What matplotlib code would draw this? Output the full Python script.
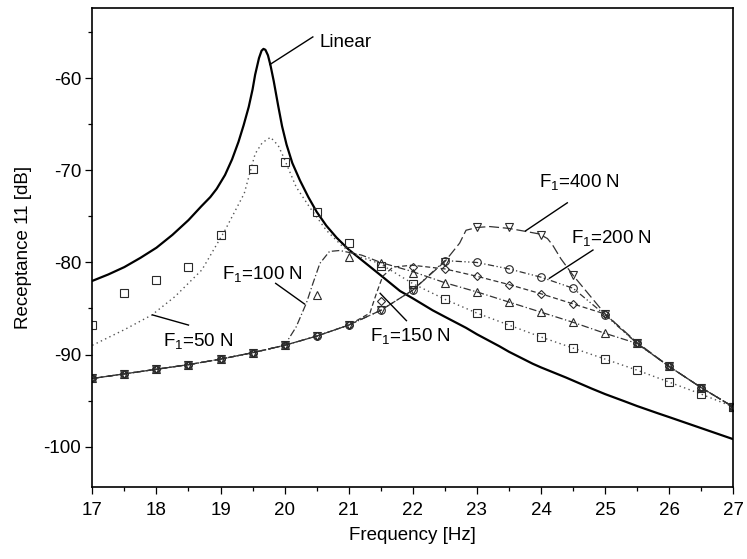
import matplotlib
matplotlib.use("Agg")
import matplotlib.pyplot as plt
from matplotlib.ticker import MultipleLocator

plt.rcParams['font.family'] = ['Liberation Sans', 'DejaVu Sans']
plt.rcParams['mathtext.fontset'] = 'custom'
plt.rcParams['mathtext.rm'] = 'Liberation Sans'
plt.rcParams['mathtext.it'] = 'Liberation Sans:italic'
plt.rcParams['axes.unicode_minus'] = False

# ---- data ----
lin_f = [17.0, 17.25, 17.5, 17.75, 18.0, 18.25, 18.5, 18.7, 18.84, 18.94, 19.07, 19.18,
         19.28, 19.36, 19.44, 19.5, 19.54, 19.6, 19.64, 19.67, 19.7, 19.74, 19.78, 19.83,
         19.9, 19.96, 20.03, 20.12, 20.24, 20.37, 20.5, 20.65, 20.81, 21.0, 21.25, 21.5,
         21.8, 22.0, 22.31, 22.5, 22.83, 23.0, 23.35, 23.5, 23.87, 24.0, 24.39, 24.79,
         25.0, 25.31, 25.5, 25.83, 26.0, 26.5, 27.0]
lin_db = [-82.0, -81.3, -80.5, -79.5, -78.4, -77.0, -75.4, -73.9, -72.9, -72.0, -70.5, -68.8,
          -66.9, -65.1, -63.1, -61.2, -59.6, -57.8, -57.0, -56.8, -56.9, -57.5, -58.6, -60.3,
          -63.0, -65.2, -67.2, -69.2, -71.1, -72.9, -74.5, -76.0, -77.3, -78.6, -80.0, -81.4,
          -83.1, -83.9, -85.2, -85.9, -87.1, -87.8, -89.1, -89.7, -91.0, -91.4, -92.5, -93.7,
          -94.3, -95.1, -95.6, -96.4, -96.8, -98.0, -99.2]

# marker frequencies (every 0.5 Hz)
pts_f = [17.0, 17.5, 18.0, 18.5, 19.0, 19.5, 20.0, 20.5, 21.0, 21.5, 22.0,
         22.5, 23.0, 23.5, 24.0, 24.5, 25.0, 25.5, 26.0, 26.5, 27.0]

pts_50 = [-86.8, -83.3, -81.9, -80.5, -77.0, -69.8, -69.1, -74.5, -77.9, -80.4, -82.3,
          -84.0, -85.5, -86.8, -88.1, -89.3, -90.5, -91.7, -93.0, -94.3, -95.7]
pts_100 = [-92.6, -92.1, -91.6, -91.1, -90.5, -89.8, -89.0, -83.5, -79.4, -80.1, -81.1,
           -82.2, -83.2, -84.3, -85.4, -86.5, -87.7, -88.8, -91.3, -93.6, -95.7]
pts_150 = [-92.6, -92.1, -91.6, -91.1, -90.5, -89.8, -89.0, -88.0, -86.8, -84.2, -80.5,
           -80.7, -81.5, -82.4, -83.4, -84.5, -85.6, -88.8, -91.3, -93.6, -95.7]
pts_200 = [-92.6, -92.1, -91.6, -91.1, -90.5, -89.8, -89.0, -88.0, -86.8, -85.2, -83.0,
           -79.8, -80.0, -80.7, -81.6, -82.8, -85.7, -88.8, -91.3, -93.6, -95.7]
pts_400 = [-92.6, -92.1, -91.6, -91.1, -90.5, -89.8, -89.0, -88.0, -86.8, -85.2, -83.0,
           -79.9, -76.2, -76.2, -77.0, -81.4, -85.6, -88.7, -91.3, -93.6, -95.7]

# computed curves
c50_f = [17.0, 17.5, 17.93, 18.29, 18.71, 19.07, 19.37, 19.54, 19.65, 19.78, 19.9,
         19.98, 20.18, 20.39, 20.65, 20.91, 21.17, 21.48, 22.0, 22.5, 23.0, 23.5,
         24.0, 24.5, 25.0, 25.5, 26.0, 26.5, 27.0]
c50_db = [-89.0, -87.3, -85.7, -83.7, -80.8, -76.5, -72.5, -68.2, -67.0, -66.4, -67.3,
          -68.5, -71.8, -74.0, -76.5, -78.3, -79.4, -80.1, -82.3, -84.0, -85.5, -86.8,
          -88.1, -89.3, -90.5, -91.7, -93.0, -94.3, -95.7]

c100_f = [17.0, 17.5, 18.0, 18.5, 19.0, 19.5, 20.0, 20.18, 20.34, 20.44, 20.55, 20.7,
          20.86, 21.2, 21.5, 22.0, 22.5, 23.0, 23.5, 24.0, 24.5, 25.0, 25.5, 26.0,
          26.5, 27.0]
c100_db = [-92.6, -92.1, -91.6, -91.1, -90.5, -89.8, -89.0, -87.0, -84.4, -82.3, -80.1,
           -78.8, -78.7, -79.2, -80.0, -81.0, -82.2, -83.2, -84.3, -85.4, -86.5, -87.7,
           -88.8, -91.3, -93.6, -95.7]

c150_f = [17.0, 17.5, 18.0, 18.5, 19.0, 19.5, 20.0, 20.5, 21.0, 21.33, 21.43, 21.53,
          21.69, 21.99, 22.5, 23.0, 23.5, 24.0, 24.5, 25.0, 25.5, 26.0, 26.5, 27.0]
c150_db = [-92.6, -92.1, -91.6, -91.1, -90.5, -89.8, -89.0, -88.0, -86.8, -85.5, -83.4,
           -81.5, -80.5, -80.3, -80.7, -81.5, -82.4, -83.4, -84.5, -85.6, -88.8, -91.3,
           -93.6, -95.7]

c200_f = [17.0, 17.5, 18.0, 18.5, 19.0, 19.5, 20.0, 20.5, 21.0, 21.5, 22.0, 22.5,
          23.0, 23.5, 24.0, 24.5, 25.0, 25.5, 26.0, 26.5, 27.0]
c200_db = [-92.6, -92.1, -91.6, -91.1, -90.5, -89.8, -89.0, -88.0, -86.8, -85.2, -83.0,
           -79.8, -80.0, -80.7, -81.6, -82.8, -85.7, -88.8, -91.3, -93.6, -95.7]

c400_f = [17.0, 17.5, 18.0, 18.5, 19.0, 19.5, 20.0, 20.5, 21.0, 21.5, 22.0, 22.5,
          22.73, 22.83, 23.0, 23.2, 23.5, 23.74, 23.97, 24.1, 24.18, 24.31, 24.5,
          25.0, 25.5, 26.0, 26.5, 27.0]
c400_db = [-92.6, -92.1, -91.6, -91.1, -90.5, -89.8, -89.0, -88.0, -86.8, -85.2, -83.0,
           -79.9, -77.9, -76.5, -76.2, -76.1, -76.3, -76.6, -76.9, -77.4, -78.1, -79.6,
           -81.4, -85.6, -88.7, -91.3, -93.6, -95.7]

x_ticks = [17, 18, 19, 20, 21, 22, 23, 24, 25, 26, 27]
y_ticks = [-100, -90, -80, -70, -60]

# ---- figure ----
fig = plt.figure(figsize=(7.47, 5.59), dpi=100)
ax = fig.add_axes([0.1236, 0.1293, 0.8581, 0.8557])

ax.plot(lin_f, lin_db, color='black', lw=1.6, solid_joinstyle='round')

mk = dict(fillstyle='none', markersize=5.5, markeredgewidth=0.8, color='#2a2a2a', linestyle='none')
ax.plot(c50_f, c50_db, color='#555555', lw=1.0, linestyle=(0, (1, 2.4)))
ax.plot(c100_f, c100_db, color='#333333', lw=0.9, linestyle=(0, (6, 2, 1, 2)))
ax.plot(c150_f, c150_db, color='#333333', lw=0.9, linestyle=(0, (4, 2.2)))
ax.plot(c200_f, c200_db, color='#333333', lw=0.9, linestyle=(0, (5, 2, 1, 2, 1, 2)))
ax.plot(c400_f, c400_db, color='#333333', lw=0.9, linestyle=(0, (8, 3)))

ax.plot(pts_f, pts_50, marker='s', **mk)
ax.plot(pts_f, pts_100, marker='^', **mk)
ax.plot(pts_f, pts_150, marker='D', **dict(mk, markersize=4.5))
ax.plot(pts_f, pts_200, marker='o', **mk)
ax.plot(pts_f, pts_400, marker='v', **mk)

ax.set_xlim(17, 27)
ax.set_ylim(-104.36, -52.4)
ax.set_xticks(x_ticks)
ax.set_yticks(y_ticks)
ax.xaxis.set_minor_locator(MultipleLocator(0.5))
ax.yaxis.set_minor_locator(MultipleLocator(5))
ax.tick_params(which='both', direction='out', top=False, right=False, labelsize=13.5, width=0.9)
ax.tick_params(which='major', length=5)
ax.tick_params(which='minor', length=3)
ax.tick_params(axis='x', pad=6)
ax.tick_params(axis='y', pad=3)
for s in ax.spines.values():
    s.set_linewidth(1.2)

ax.set_xlabel('Frequency [Hz]', fontsize=13.5, labelpad=6)
ax.set_ylabel('Receptance 11 [dB]', fontsize=13.5, labelpad=8)

# annotations
tk = dict(fontsize=13.5, ha='left', va='baseline')
ax.text(20.55, -56.6, 'Linear', **tk)
ax.plot([19.77, 20.44], [-58.5, -55.5], color='black', lw=1.0)

ax.text(23.97, -71.85, r'F$_\mathrm{1}$=400 N', **tk)
ax.plot([23.76, 24.41], [-76.56, -73.52], color='black', lw=1.0)

ax.text(24.47, -77.86, r'F$_\mathrm{1}$=200 N', **tk)
ax.plot([24.13, 24.81], [-81.72, -78.65], color='black', lw=1.0)

ax.text(19.03, -81.8, r'F$_\mathrm{1}$=100 N', **tk)
ax.plot([19.86, 20.31], [-82.27, -84.51], color='black', lw=1.0)

ax.text(21.33, -88.49, r'F$_\mathrm{1}$=150 N', **tk)
ax.plot([21.49, 21.9], [-83.35, -86.32], color='black', lw=1.0)

ax.text(18.11, -89.07, r'F$_\mathrm{1}$=50 N', **tk)
ax.plot([17.94, 18.5], [-85.7, -86.8], color='black', lw=1.0)

fig.savefig('out.png', dpi=100)
